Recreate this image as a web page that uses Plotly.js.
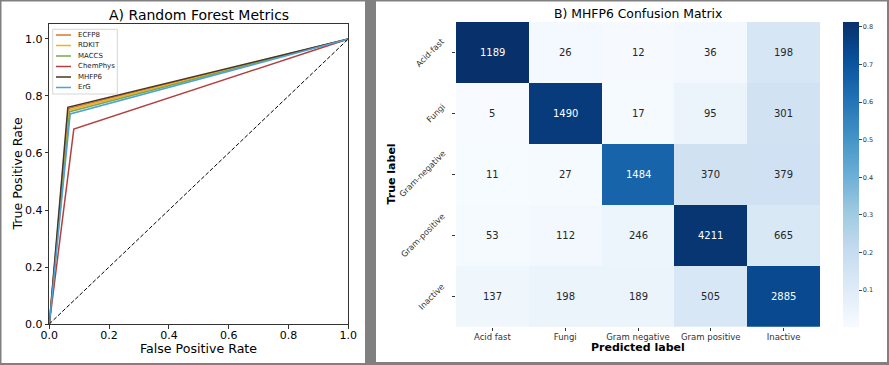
<!DOCTYPE html>
<html><head><meta charset="utf-8">
<script src="https://cdn.plot.ly/plotly-3.0.1.min.js"></script>
<style>html,body{margin:0;padding:0;background:#808080;}#chart{width:889px;height:365px;}</style>
</head><body><div id="chart"></div>
<script>
// ---------- data ----------
const models = ['ECFP8', 'RDKIT', 'MACCS', 'ChemPhys', 'MHFP6', 'ErG'];
const rocFpr = [[0, 0.064, 1], [0, 0.066, 1], [0, 0.068, 1], [0, 0.082, 1], [0, 0.062, 1], [0, 0.070, 1]];
const rocTpr = [[0, 0.756, 1], [0, 0.751, 1], [0, 0.745, 1], [0, 0.684, 1], [0, 0.760, 1], [0, 0.737, 1]];
const chanceLine = [0, 1];
const rocTicks = [0, 0.2, 0.4, 0.6, 0.8, 1.0];

const predictedLabels = ['Acid fast', 'Fungi', 'Gram negative', 'Gram positive', 'Inactive'];
const trueLabels = ['Acid-fast', 'Fungi', 'Gram-negative', 'Gram-positive', 'Inactive'];
const counts = [
  [1189, 26, 12, 36, 198],
  [5, 1490, 17, 95, 301],
  [11, 27, 1484, 370, 379],
  [53, 112, 246, 4211, 665],
  [137, 198, 189, 505, 2885]
];
const colorbarTicks = [0.1, 0.2, 0.3, 0.4, 0.5, 0.6, 0.7, 0.8];

// ---------- styles ----------
const lineColors = ['#d9772f', '#f2b01e', '#79a84e', '#b43f3f', '#4a3628', '#4fa2d8'];
const blues = [[0, '#f7fbff'], [0.125, '#deebf7'], [0.25, '#c6dbef'], [0.375, '#9ecae1'],
  [0.5, '#6baed6'], [0.625, '#4292c6'], [0.75, '#2171b5'], [0.875, '#08519c'], [1, '#08306b']];
const W = 889, H = 365;
const px = v => v / W;
const py = v => 1 - v / H;
const FONT = 'DejaVu Sans';

// row-normalised matrix
const norm = counts.map(r => { const s = r.reduce((a, b) => a + b, 0); return r.map(v => v / s); });
const flat = norm.flat();
const zmin = Math.min(...flat), zmax = Math.max(...flat);

const traces = [];
models.forEach((m, i) => {
  traces.push({
    type: 'scatter', mode: 'lines', x: rocFpr[i], y: rocTpr[i], name: m,
    line: {color: lineColors[i], width: 1.5}, xaxis: 'x', yaxis: 'y', showlegend: false
  });
});
traces.push({
  type: 'scatter', mode: 'lines', x: chanceLine, y: chanceLine, showlegend: false,
  line: {color: '#000', width: 1, dash: '4px,2px'}, xaxis: 'x', yaxis: 'y'
});
traces.push({
  type: 'heatmap', x: predictedLabels, y: trueLabels, z: norm, zmin: zmin, zmax: zmax,
  colorscale: blues, xaxis: 'x2', yaxis: 'y2', hoverinfo: 'skip',
  colorbar: {
    thickness: 15.6, thicknessmode: 'pixels', len: 304.7 / H, lenmode: 'fraction',
    x: px(842.7), xanchor: 'left', y: py(326.7), yanchor: 'bottom', xpad: 0, ypad: 0,
    outlinewidth: 0, ticks: 'outside', ticklen: 3, tickwidth: 1, tickcolor: '#444',
    tickvals: colorbarTicks, ticktext: colorbarTicks.map(v => v.toFixed(1)),
    tickfont: {family: FONT, size: 6.5, color: '#333'}
  }
});

const shapes = [
  {type: 'rect', xref: 'paper', yref: 'paper', x0: px(1.5), x1: px(365), y0: py(363), y1: py(1.5),
    fillcolor: '#fff', line: {width: 0}, layer: 'below'},
  {type: 'rect', xref: 'paper', yref: 'paper', x0: px(376), x1: px(887), y0: py(362), y1: py(1.5),
    fillcolor: '#fff', line: {width: 0}, layer: 'below'},
  // legend box
  {type: 'rect', xref: 'paper', yref: 'paper', x0: px(52.7), x1: px(117.3), y0: py(94), y1: py(29.3),
    fillcolor: '#fff', line: {width: 0.8, color: '#cccccc'}, layer: 'above'}
];
const annotations = [];
models.forEach((m, i) => {
  const yy = 35 + i * 10.5;
  shapes.push({type: 'line', xref: 'paper', yref: 'paper', x0: px(56), x1: px(71), y0: py(yy), y1: py(yy),
    line: {color: lineColors[i], width: 1.5}, layer: 'above'});
  annotations.push({xref: 'paper', yref: 'paper', x: px(76), y: py(yy), text: m, showarrow: false,
    xanchor: 'left', yanchor: 'middle', font: {family: FONT, size: 7, color: '#222'}});
});

// titles
annotations.push(
  {xref: 'paper', yref: 'paper', x: px(198.8), y: py(15), text: 'A) Random Forest Metrics', showarrow: false,
    xanchor: 'center', yanchor: 'middle', font: {family: FONT, size: 14, color: '#000'}},
  {xref: 'paper', yref: 'paper', x: px(198.8), y: py(348), text: 'False Positive Rate', showarrow: false,
    xanchor: 'center', yanchor: 'middle', font: {family: FONT, size: 12.6, color: '#000'}},
  {xref: 'paper', yref: 'paper', x: px(16.5), y: py(174), text: 'True Positive Rate', showarrow: false,
    textangle: -90, xanchor: 'center', yanchor: 'middle', font: {family: FONT, size: 12.6, color: '#000'}},
  {xref: 'paper', yref: 'paper', x: px(638), y: py(14), text: 'B) MHFP6 Confusion Matrix', showarrow: false,
    xanchor: 'center', yanchor: 'middle', font: {family: FONT, size: 12.4, color: '#000'}},
  {xref: 'paper', yref: 'paper', x: px(638), y: py(347.5), text: '<b>Predicted label</b>', showarrow: false,
    xanchor: 'center', yanchor: 'middle', font: {family: FONT, size: 11, color: '#000'}},
  {xref: 'paper', yref: 'paper', x: px(390.5), y: py(174), text: '<b>True label</b>', showarrow: false,
    textangle: -90, xanchor: 'center', yanchor: 'middle', font: {family: FONT, size: 11, color: '#000'}}
);

// heatmap cell labels and rotated y tick labels
trueLabels.forEach((tl, i) => {
  predictedLabels.forEach((pl, j) => {
    annotations.push({xref: 'x2', yref: 'y2', x: pl, y: tl, text: String(counts[i][j]), showarrow: false,
      font: {family: FONT, size: 10, color: norm[i][j] > 0.5 ? '#ffffff' : '#262626'}});
  });
  annotations.push({xref: 'paper', yref: 'y2', x: px(450), y: tl, text: tl, showarrow: false, textangle: -45,
    xanchor: 'right', yanchor: 'middle', font: {family: FONT, size: 8.2, color: '#333'}});
});

const layout = {
  width: W, height: H, margin: {l: 0, r: 0, t: 0, b: 0},
  paper_bgcolor: '#808080', plot_bgcolor: 'rgba(0,0,0,0)', showlegend: false,
  font: {family: FONT},
  xaxis: {domain: [px(49.3), px(348.3)], range: [0, 1], tickvals: rocTicks, ticktext: rocTicks.map(v => v.toFixed(1)),
    ticks: 'outside', ticklen: 3.5, tickwidth: 1, tickcolor: '#333', showgrid: false, zeroline: false,
    ticklabelstandoff: -3,
    showline: true, mirror: true, linecolor: '#333', linewidth: 1, tickfont: {family: FONT, size: 11, color: '#000'}},
  yaxis: {domain: [py(324), py(24)], range: [0, 1.0526], tickvals: rocTicks, ticktext: rocTicks.map(v => v.toFixed(1)),
    ticks: 'outside', ticklen: 3.5, tickwidth: 1, tickcolor: '#333', showgrid: false, zeroline: false,
    showline: true, mirror: true, linecolor: '#333', linewidth: 1, tickfont: {family: FONT, size: 11, color: '#000'}},
  xaxis2: {domain: [px(456), px(820)], anchor: 'y2', type: 'category', ticks: 'outside', ticklen: 3,
    tickcolor: '#333', showgrid: false, zeroline: false, showline: false, ticklabelstandoff: -1,
    tickfont: {family: FONT, size: 8.5, color: '#333'}},
  yaxis2: {domain: [py(326.7), py(22)], anchor: 'x2', type: 'category', autorange: 'reversed', ticks: 'outside',
    ticklen: 3, tickcolor: '#333', showticklabels: false, showgrid: false, zeroline: false, showline: false},
  shapes: shapes,
  annotations: annotations
};

Plotly.newPlot('chart', traces, layout, {displayModeBar: false, staticPlot: true});
</script>
</body></html>
